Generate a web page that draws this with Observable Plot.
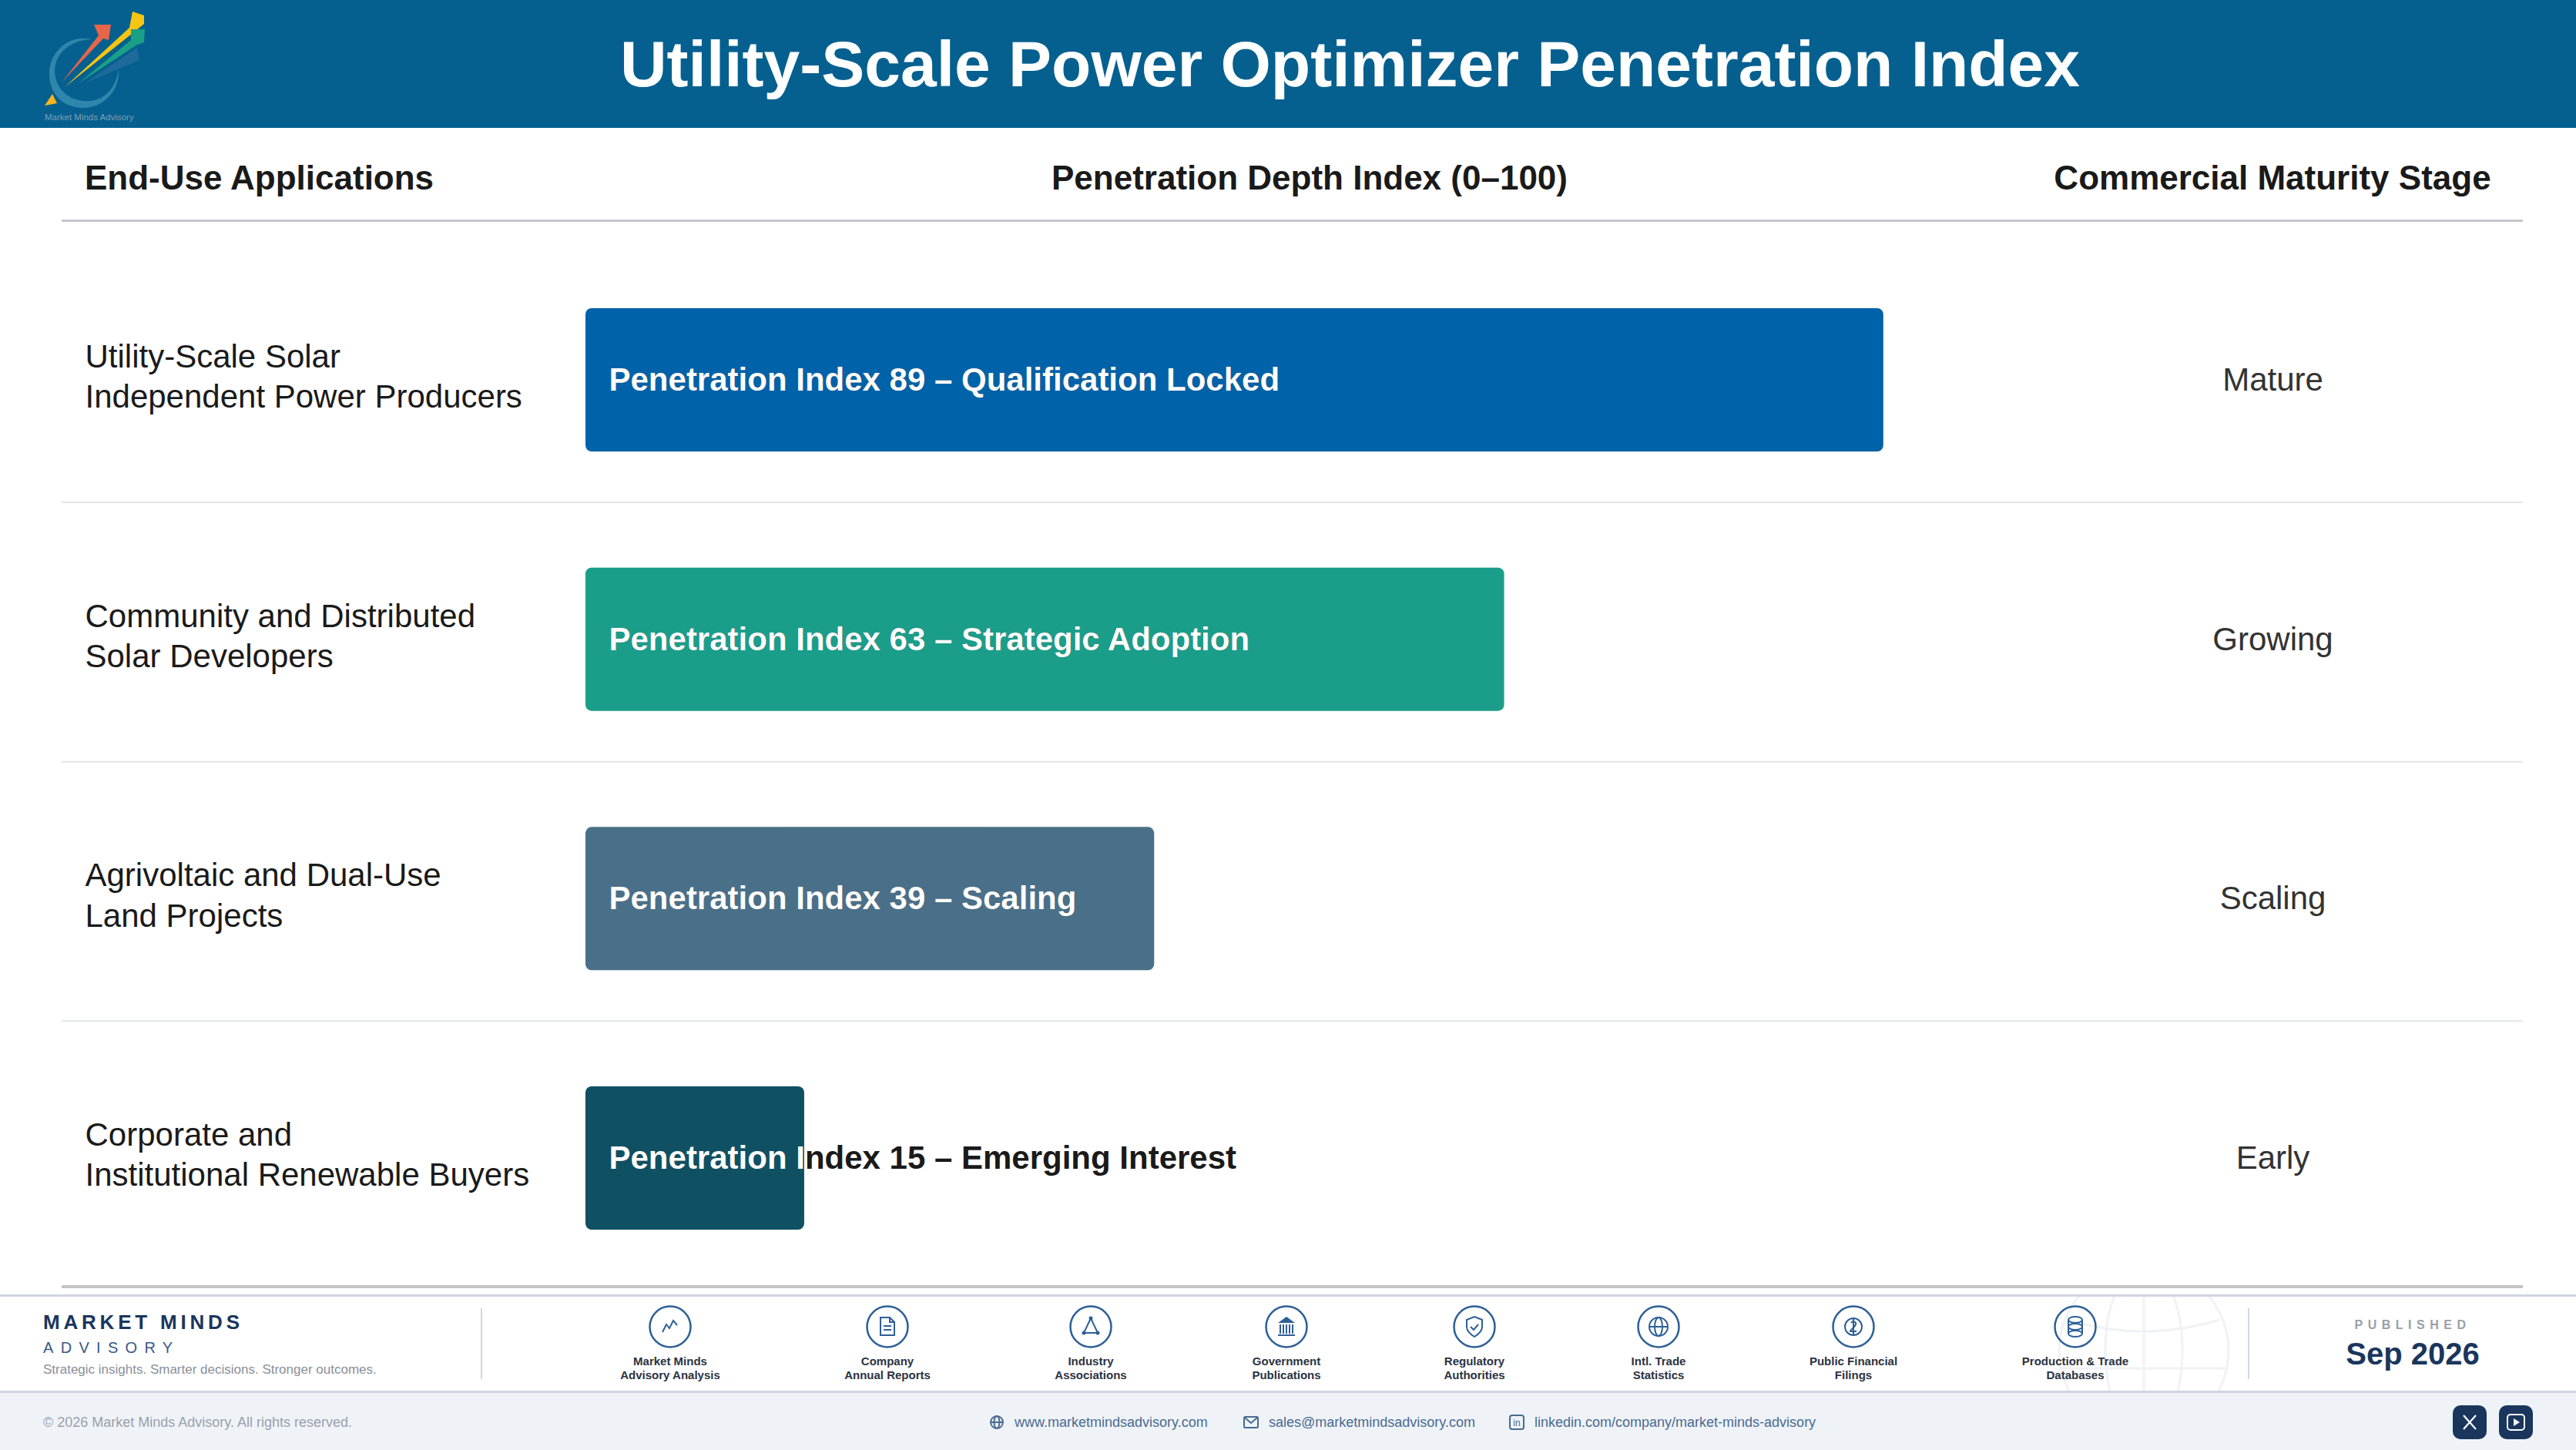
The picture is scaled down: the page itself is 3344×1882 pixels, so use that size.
<!DOCTYPE html>
<html><head><meta charset="utf-8">
<script src="https://cdn.jsdelivr.net/npm/d3@7"></script>
<script src="https://cdn.jsdelivr.net/npm/@observablehq/plot@0.6"></script>
<style>
html,body{margin:0;padding:0;background:#fff;width:3344px;height:1882px;overflow:hidden;font-family:"Liberation Sans",Arial,sans-serif}
#page{position:relative;width:3344px;height:1882px}
#hdr{position:absolute;left:0;top:0;width:3344px;height:166px;background:#05608f}
#hdr h1{position:absolute;left:0;top:0;width:100%;margin:0;padding-left:161px;box-sizing:border-box;text-align:center;color:#fff;font-size:84px;line-height:166px;font-weight:700}
#logo{position:absolute;left:0;top:0}
.col{position:absolute;top:204px;font-size:44px;font-weight:700;color:#1a1a1a;line-height:54px;white-space:nowrap}
#chart{position:absolute;left:0;top:166px}
#band1{position:absolute;left:0;top:1680px;width:3344px;height:125px;background:#fff;border-top:3px solid #d0d4e2;overflow:hidden}
#band2{position:absolute;left:0;top:1805px;width:3344px;height:77px;background:#eff3f8;border-top:3px solid #d0d4e2;box-sizing:border-box}
.abs{position:absolute;white-space:nowrap}
.src{position:absolute;transform:translateX(-50%);text-align:center;top:1758px;font-size:15px;line-height:17.5px;font-weight:700;color:#2a3342;white-space:pre}
.ico{position:absolute}
</style></head><body><div id="page">
<div id="hdr">
<svg id="logo" width="220" height="166" viewBox="0 0 220 166">
<path d="M120 51 C88 44 64 68 64 96 C64 124 84 140 108 140 C134 140 156 118 154 90 C150 118 132 133 108 131 C86 129 71 112 71 92 C71 70 92 51 120 51Z" fill="#2f86ad"/>
<path d="M80 107 L128 46 L122 32 L144 32 L141 52 L134 50Z" fill="#e8654a"/>
<path d="M84 113 L168 36 L172 15 L187 20 L187 31 L176 40Z" fill="#f7c511"/>
<path d="M102 108 L170 52 L170 38 L188 38 L187 55 L178 58Z" fill="#1aa086"/>
<path d="M110 108 L178 62 L181 78Z" fill="#2a6fa0" opacity=".7"/>
<path d="M58 137 L68 122 L74 134Z" fill="#fbb41e"/>
<text x="58" y="156" font-size="11.5" fill="#7f9fb5" font-family="Liberation Sans">Market Minds Advisory</text>
</svg>
<h1>Utility-Scale Power Optimizer Penetration Index</h1>
</div>
<div class="col" style="left:110px">End-Use Applications</div>
<div class="col" style="left:1700px;transform:translateX(-50%)">Penetration Depth Index (0–100)</div>
<div class="col" style="left:2950px;transform:translateX(-50%)">Commercial Maturity Stage</div>
<div id="band1"></div>
<div id="band2"></div>
<div id="footer"></div>
<div id="chart"></div>
</div>
<script>
const applications = ["Utility-Scale Solar\nIndependent Power Producers","Community and Distributed\nSolar Developers","Agrivoltaic and Dual-Use\nLand Projects","Corporate and\nInstitutional Renewable Buyers"];
const indexValues = [89,63,39,15];
const stages = ["Qualification Locked","Strategic Adoption","Scaling","Emerging Interest"];
const maturity = ["Mature","Growing","Scaling","Early"];
const barColors = ["#0062a8","#1a9e8a","#4a7089","#0f5163"];
const table = applications.map((a,i)=>({app:a,value:indexValues[i],label:`Penetration Index ${indexValues[i]} – ${stages[i]}`,maturity:maturity[i],color:barColors[i]}));

function clipToBar(index, scales, values, dimensions, context, next){
  const g = next(index, scales, values, dimensions, context);
  const id = "barclip";
  const cp = d3.create("svg:clipPath").attr("id",id);
  for(const d of table){
    cp.append("rect").attr("x",scales.x(0)).attr("width",scales.x(d.value)-scales.x(0))
      .attr("y",scales.y(d.app)).attr("height",scales.y.bandwidth);
  }
  const wrap = d3.create("svg:g").attr("clip-path",`url(#${id})`);
  wrap.node().appendChild(cp.node());
  wrap.node().appendChild(g);
  return wrap.node();
}
const FONT = 42;
const chart = Plot.plot({
  width:3344,height:1514,
  marginLeft:760,marginRight:691,marginTop:158.67,marginBottom:8.67,
  style:{fontFamily:"'Liberation Sans',Arial,sans-serif",background:"transparent",overflow:"visible"},
  x:{domain:[0,100],axis:null},
  y:{domain:applications,axis:null,paddingInner:0.4475,paddingOuter:0.22375,align:0.5,round:false},
  color:{type:"identity"},
  marks:[
    Plot.ruleY(applications.slice(0,3),{y:d=>d,dy:158.5,stroke:"#e4e6ea",strokeWidth:2,insetLeft:-680,insetRight:-622}),
    Plot.barX(table,{x:"value",y:"app",fill:"color",rx:8,ry:8}),
    Plot.text(table,{y:"app",text:"app",frameAnchor:"left",dx:-650,dy:-7,textAnchor:"start",fontSize:FONT,lineHeight:1.24,fill:"#1a1a1a"}),
    Plot.text(table,{y:"app",text:"maturity",frameAnchor:"right",dx:297,textAnchor:"middle",fontSize:FONT,fill:"#333"}),
    Plot.text(table,{x:()=>0,y:"app",text:"label",dx:30,textAnchor:"start",fontSize:FONT,fontWeight:700,fill:"#1a1a1a"}),
    Plot.text(table,{x:()=>0,y:"app",text:"label",dx:30,textAnchor:"start",fontSize:FONT,fontWeight:700,fill:"#fff",render:clipToBar})
  ]
});
document.getElementById("chart").appendChild(chart);

const page=document.getElementById("page");
function rule(top,left,w,h,c){const d=document.createElement("div");d.className="abs";d.style.cssText=`left:${left}px;top:${top}px;width:${w}px;height:${h}px;background:${c}`;page.appendChild(d);}
rule(285,80,3195,3,"#c4c4cc");
rule(1668,80,3195,4,"#c4c4c6");
rule(1698,624,2,92,"#d4d7de");
rule(1698,2918,2,92,"#d4d7de");

const sourceNames=["Market Minds\nAdvisory Analysis","Company\nAnnual Reports","Industry\nAssociations","Government\nPublications","Regulatory\nAuthorities","Intl. Trade\nStatistics","Public Financial\nFilings","Production & Trade\nDatabases"];
const sourceX=[870,1152,1416,1670,1914,2153,2406,2694];
const I="#2e5f96";
const s=`fill="none" stroke="${I}" stroke-width="2"`;
const sourceIcons=[
 `<path d="M18 35 L23 25 L27 30 L32 20 L37 26" ${s} stroke-width="2.5"/>`,
 `<path d="M19 16 H31 L37 22 V39 H19Z M31 16 V22 H37 M23 27 H33 M23 32 H33" ${s}/>`,
 `<path d="M28 17 L19 36 H37Z" ${s}/><circle cx="28" cy="17" r="2.5" fill="${I}"/><circle cx="19" cy="36" r="2.5" fill="${I}"/><circle cx="37" cy="36" r="2.5" fill="${I}"/>`,
 `<path d="M28 15 L39 23 H17Z" fill="${I}"/><path d="M20 25 V37 M24 25 V37 M28 25 V37 M32 25 V37 M36 25 V37 M17 39 H39" ${s}/>`,
 `<path d="M28 15 L38 19 V28 C38 34 33 38 28 41 C23 38 18 34 18 28 V19Z M23 28 L27 32 L33 25" ${s}/>`,
 `<circle cx="28" cy="28" r="12" ${s}/><ellipse cx="28" cy="28" rx="5" ry="12" ${s}/><path d="M16 28 H40" ${s}/>`,
 `<circle cx="28" cy="28" r="11" ${s}/><path d="M25 23 C27 20 32 21 31 25 C30 29 24 31 24 34 H32 M28 18 V38" ${s}/>`,
 `<ellipse cx="28" cy="19" rx="9" ry="4" ${s}/><ellipse cx="28" cy="28" rx="9" ry="4" ${s}/><ellipse cx="28" cy="37" rx="9" ry="4" ${s}/><path d="M19 19 V37 M37 19 V37" ${s}/>`
];
const foot=document.getElementById("footer");
function add(html){foot.insertAdjacentHTML("beforeend",html);}
add(`<svg class="ico" style="left:2640px;top:1683px" width="290" height="122" viewBox="0 0 290 122"><g fill="none" stroke="#f1f2f5" stroke-width="3"><circle cx="143" cy="70" r="110"/><ellipse cx="143" cy="70" rx="50" ry="110"/><path d="M143 -40 V180 M33 93 H253 M45 30 Q143 60 241 30"/></g></svg>`);
sourceNames.forEach((n,i)=>{
  add(`<svg class="ico" style="left:${sourceX[i]-28}px;top:1694px" width="56" height="56" viewBox="0 0 56 56"><circle cx="28" cy="28" r="26.5" fill="none" stroke="${I}" stroke-width="2.5"/>${sourceIcons[i]}</svg>`);
  add(`<div class="src" style="left:${sourceX[i]}px">${n.replace("&","&amp;")}</div>`);
});
add(`<div class="abs" style="left:56px;top:1701px;font-size:26px;line-height:30px;font-weight:700;letter-spacing:4.8px;color:#1a365d">MARKET MINDS</div>`);
add(`<div class="abs" style="left:56px;top:1737px;font-size:20px;line-height:24px;letter-spacing:9.3px;color:#3a5a85">ADVISORY</div>`);
add(`<div class="abs" style="left:56px;top:1767px;font-size:17px;line-height:22px;color:#8a8f98">Strategic insights. Smarter decisions. Stronger outcomes.</div>`);
add(`<div class="abs" style="left:3132px;top:1710px;transform:translateX(-50%);font-size:16px;line-height:20px;font-weight:700;letter-spacing:6.5px;color:#9a9fa8">PUBLISHED</div>`);
add(`<div class="abs" style="left:3132px;top:1733px;transform:translateX(-50%);font-size:40px;line-height:48px;font-weight:700;color:#1a365d">Sep 2026</div>`);
add(`<div class="abs" style="left:56px;top:1834px;font-size:18px;line-height:24px;color:#9aa0ab">© 2026 Market Minds Advisory. All rights reserved.</div>`);
const links=["www.marketmindsadvisory.com","sales@marketmindsadvisory.com","linkedin.com/company/market-minds-advisory"];
const linkX=[1317,1647,1992];
const L="#4a6a90";
const ls=`fill="none" stroke="${L}" stroke-width="2"`;
const linkIcons=[
 `<circle cx="10" cy="10" r="8" ${ls}/><ellipse cx="10" cy="10" rx="3.5" ry="8" ${ls}/><path d="M2 10 H18" ${ls}/>`,
 `<rect x="1" y="3" width="18" height="14" rx="1.5" ${ls}/><path d="M2 4 L10 11 L18 4" ${ls}/>`,
 `<rect x="1" y="1" width="18" height="18" rx="3" ${ls}/><text x="10" y="15" font-size="12" text-anchor="middle" fill="${L}" font-family="Liberation Sans">in</text>`
];
links.forEach((t,i)=>{
  add(`<svg class="ico" style="left:${linkX[i]-33}px;top:1836px" width="20" height="20">${linkIcons[i]}</svg>`);
  add(`<div class="abs" style="left:${linkX[i]}px;top:1834px;font-size:18px;line-height:24px;color:${L}">${t}</div>`);
});
add(`<svg class="ico" style="left:3184px;top:1824px" width="104" height="44"><rect width="44" height="44" rx="10" fill="#1a365d"/><rect x="60" width="44" height="44" rx="10" fill="#1a365d"/><path d="M14 13 L30 31 M30 13 L14 31" stroke="#fff" stroke-width="2.2"/><rect x="71" y="12" width="22" height="20" rx="4" fill="none" stroke="#fff" stroke-width="2"/><path d="M79 17 L87 22 L79 27Z" fill="#fff"/></svg>`);
</script>
</body></html>
